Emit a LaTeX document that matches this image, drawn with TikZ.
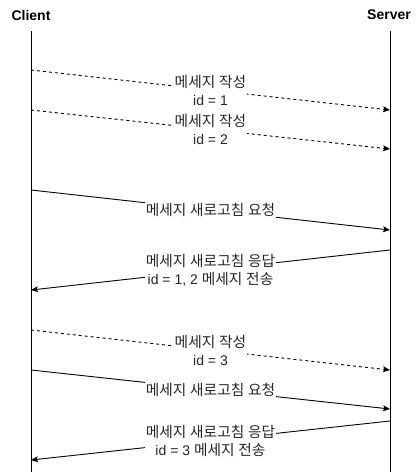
\documentclass[tikz,border=0pt]{standalone}
\usepackage{fontspec}
\setmainfont{Liberation Sans}
\newfontfamily\krfont[Scale=1.05]{Noto Sans CJK KR}
\newcommand\kr[1]{{\krfont #1}}
\usetikzlibrary{arrows.meta}
\tikzset{
  lifeline/.style={line width=1pt, black},
  msg/.style={line width=0.9pt, black, -{Stealth[length=7pt,width=6pt,inset=1.5pt]}},
  async/.style={msg, dash pattern=on 3pt off 3pt},
  lbl/.style={fill=white, inner sep=1pt, font=\fontsize{14}{18}\selectfont, text=black!85, align=center},
  head/.style={font=\bfseries\fontsize{14}{16}\selectfont, inner sep=0pt}
}
\begin{document}
\begin{tikzpicture}[x=1pt,y=-1pt]
\useasboundingbox (0,0) rectangle (420,472);
\node[head] (client) at (31,15) {Client};
\node[head] (server) at (389,15) {Server};
\coordinate (cTop) at (31,31);
\coordinate (cBot) at (31,472);
\coordinate (sTop) at (390,31);
\coordinate (sBot) at (390,472);
\draw[lifeline] (cTop) -- (cBot);
\draw[lifeline] (sTop) -- (sBot);
% endpoints
\coordinate (a1s) at (31,70);  \coordinate (a1e) at (390,110);
\coordinate (a2s) at (31,110); \coordinate (a2e) at (390,149);
\coordinate (a3s) at (31,190); \coordinate (a3e) at (390,230);
\coordinate (a4s) at (390,250); \coordinate (a4e) at (31,290);
\coordinate (a5s) at (31,330); \coordinate (a5e) at (390,370);
\coordinate (a6s) at (31,370); \coordinate (a6e) at (390,409);
\coordinate (a7s) at (390,421); \coordinate (a7e) at (31,460);
\draw[async] (a1s) -- node[lbl] (l1) {\kr{메세지} \kr{작성}\\id = 1} (a1e);
\draw[async] (a2s) -- node[lbl] (l2) {\kr{메세지} \kr{작성}\\id = 2} (a2e);
\draw[msg] (a3s) -- node[lbl] (l3) {\kr{메세지} \kr{새로고침} \kr{요청}} (a3e);
\draw[msg] (a4s) -- node[lbl] (l4) {\kr{메세지} \kr{새로고침} \kr{응답}\\id = 1, 2 \kr{메세지} \kr{전송}} (a4e);
\draw[async] (a5s) -- node[lbl] (l5) {\kr{메세지} \kr{작성}\\id = 3} (a5e);
\draw[msg] (a6s) -- node[lbl] (l6) {\kr{메세지} \kr{새로고침} \kr{요청}} (a6e);
\draw[msg] (a7s) -- node[lbl] (l7) {\kr{메세지} \kr{새로고침} \kr{응답}\\id = 3 \kr{메세지} \kr{전송}} (a7e);
\end{tikzpicture}
\end{document}
